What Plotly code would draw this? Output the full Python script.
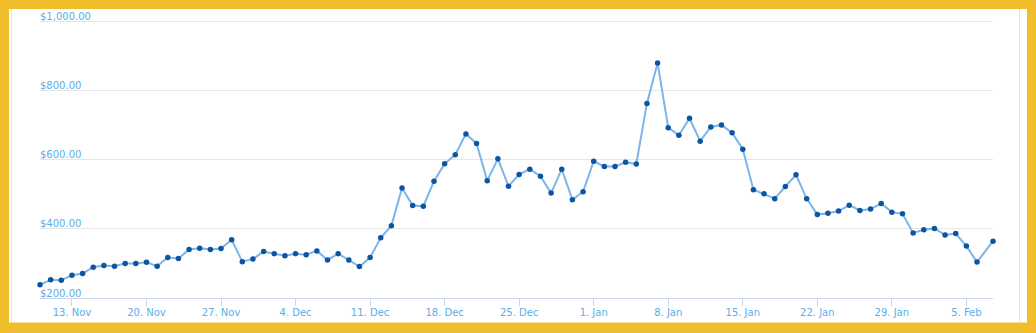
import plotly.graph_objects as go

dates = [
    "2017-11-10", "2017-11-11", "2017-11-12", "2017-11-13", "2017-11-14", "2017-11-15", "2017-11-16",
    "2017-11-17", "2017-11-18", "2017-11-19", "2017-11-20", "2017-11-21", "2017-11-22", "2017-11-23",
    "2017-11-24", "2017-11-25", "2017-11-26", "2017-11-27", "2017-11-28", "2017-11-29", "2017-11-30",
    "2017-12-01", "2017-12-02", "2017-12-03", "2017-12-04", "2017-12-05", "2017-12-06", "2017-12-07",
    "2017-12-08", "2017-12-09", "2017-12-10", "2017-12-11", "2017-12-12", "2017-12-13", "2017-12-14",
    "2017-12-15", "2017-12-16", "2017-12-17", "2017-12-18", "2017-12-19", "2017-12-20", "2017-12-21",
    "2017-12-22", "2017-12-23", "2017-12-24", "2017-12-25", "2017-12-26", "2017-12-27", "2017-12-28",
    "2017-12-29", "2017-12-30", "2017-12-31",
    "2018-01-01", "2018-01-02", "2018-01-03", "2018-01-04", "2018-01-05", "2018-01-06", "2018-01-07",
    "2018-01-08", "2018-01-09", "2018-01-10", "2018-01-11", "2018-01-12", "2018-01-13", "2018-01-14",
    "2018-01-15", "2018-01-16", "2018-01-17", "2018-01-18", "2018-01-19", "2018-01-20", "2018-01-21",
    "2018-01-22", "2018-01-23", "2018-01-24", "2018-01-25", "2018-01-26", "2018-01-27", "2018-01-28",
    "2018-01-29", "2018-01-30", "2018-01-31",
    "2018-02-01", "2018-02-02", "2018-02-03", "2018-02-04", "2018-02-05", "2018-02-06",
    "2018-02-07 12:00",
]

prices = [
    238, 253, 251, 266, 271, 289, 294, 292, 300, 300, 303, 292, 317, 314, 340, 344, 340, 343, 368, 305, 313,
    334, 328, 322, 328, 325, 336, 310, 328, 310, 291, 317, 374, 409, 518, 467, 465, 537, 588, 614, 674,
    646, 539, 602, 523, 557, 572, 552, 503, 572, 484, 507,
    595, 580, 580, 592, 587, 762, 879, 692, 670, 719, 653, 694, 700, 677, 630, 513, 501, 487, 522, 556,
    487, 441, 445, 451, 468, 453, 457, 473, 448, 443, 388,
    397, 401, 382, 386, 350, 304,
    364,
]

x_tick_dates = [
    "2017-11-13", "2017-11-20", "2017-11-27", "2017-12-04", "2017-12-11", "2017-12-18", "2017-12-25",
    "2018-01-01", "2018-01-08", "2018-01-15", "2018-01-22", "2018-01-29", "2018-02-05",
]
y_tick_values = [200, 400, 600, 800, 1000]

W, H = 1036, 333
ML, MR, MT, MB = 40, 43, 20, 34.5
PW = W - ML - MR
PH = H - MT - MB


def px_x(px):
    return (px - ML) / PW


def px_y(py):
    return (H - MB - py) / PH


YELLOW = "#F1BE2B"
LABEL = "#5aaeea"

fig = go.Figure()
fig.add_trace(go.Scatter(
    x=dates, y=prices, mode="lines+markers",
    line=dict(color="#7cb5ec", width=2),
    marker=dict(color="#0d55a0", size=5.5),
    cliponaxis=False,
    hoverinfo="x+y",
))

shapes = [
    dict(type="rect", xref="paper", yref="paper", layer="below",
         x0=px_x(9), x1=px_x(1027), y0=px_y(323), y1=px_y(9),
         fillcolor="white", line=dict(width=0)),
    dict(type="line", xref="paper", yref="paper", layer="below",
         x0=px_x(11.5), x1=px_x(11.5), y0=px_y(323), y1=px_y(9),
         line=dict(color="#e3e3e3", width=1)),
    dict(type="line", xref="paper", yref="paper", layer="below",
         x0=px_x(1019.5), x1=px_x(1019.5), y0=px_y(323), y1=px_y(9),
         line=dict(color="#e3e3e3", width=1)),
]

fig.update_layout(
    width=W, height=H,
    margin=dict(l=ML, r=MR, t=MT, b=MB, pad=0),
    paper_bgcolor=YELLOW,
    plot_bgcolor="white",
    showlegend=False,
    shapes=shapes,
    font=dict(family="DejaVu Sans", size=10, color=LABEL),
    xaxis=dict(
        type="date",
        range=["2017-11-10", "2018-02-07 12:00"],
        tickvals=x_tick_dates,
        tickformat="%-d. %b",
        showgrid=False,
        showline=True, linecolor="#ccd6eb", linewidth=1,
        ticks="outside", ticklen=7, tickcolor="#ccd6eb", tickwidth=1,
        ticklabelstandoff=-2,
        tickfont=dict(family="DejaVu Sans", size=10, color=LABEL),
        zeroline=False,
        fixedrange=True,
    ),
    yaxis=dict(
        range=[200, 1003],
        tickvals=y_tick_values,
        tickformat="$,.2f",
        ticklabelposition="inside top",
        ticklabeloverflow="allow",
        ticklabelshift=2,
        ticklabelstandoff=-3,
        showgrid=True, gridcolor="#e6e6e6", gridwidth=1,
        zeroline=False,
        showline=False,
        ticks="",
        tickfont=dict(family="DejaVu Sans", size=10, color=LABEL),
        fixedrange=True,
    ),
)

fig.write_html("out.html")
